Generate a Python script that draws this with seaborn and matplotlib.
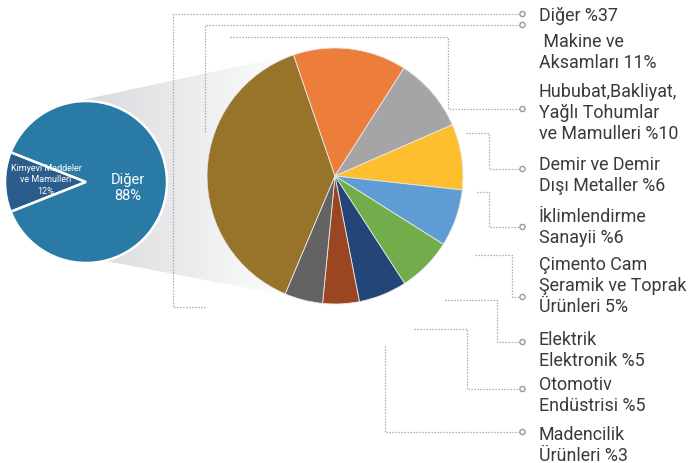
import numpy as np
import matplotlib
matplotlib.use("Agg")
import matplotlib.pyplot as plt
import seaborn as sns
from matplotlib.patches import Polygon, Circle

big_labels = ["Diğer %37", " Makine ve\nAksamları 11%", "Hububat,Bakliyat,\nYağlı Tohumlar\nve Mamulleri %10",
              "Demir ve Demir\nDışı Metaller %6", "İklimlendirme\nSanayii %6",
              "Çimento Cam\nŞeramik ve Toprak\nÜrünleri 5%", "Elektrik\nElektronik %5",
              "Otomotiv\nEndüstrisi %5", "Madencilik\nÜrünleri %3"]
big_values = [38.4, 14.3, 9.4, 8.3, 7.2, 6.9, 6.1, 4.6, 4.8]
big_colors = ["#97742a", "#ed7d3b", "#a5a5a5", "#fdbf2d", "#5e9cd3",
              "#72ad4c", "#234577", "#9b4622", "#636363"]

small_labels = ["Kimyevi Maddeler\nve Mamulleri\n12%", "Diğer\n88%"]
small_values = [12, 88]
small_colors = ["#2b5d8c", "#2a7aa6"]

sns.set_theme(style="white")
plt.rcParams['font.family'] = ['Roboto', 'DejaVu Sans']

W, H = 690, 464
fig = plt.figure(figsize=(6.9, 4.64), dpi=100)
ax = fig.add_axes([0, 0, 1, 1])


def Y(y):
    return H - y


# grey connector band between the two pies
band = [(86, 183), (68, 104), (296, 55), (335, 177), (284, 296), (106, 262)]
poly = Polygon([(x, Y(y)) for x, y in band], closed=True, facecolor="none", edgecolor="none")
ax.add_patch(poly)
grad = np.linspace(0, 1, 256).reshape(1, -1)
cmap = matplotlib.colors.LinearSegmentedColormap.from_list("band", ["#d5d6da", "#ffffff"])
im = ax.imshow(grad, extent=[65, 296, Y(300), Y(50)], cmap=cmap, aspect="auto", zorder=1)
im.set_clip_path(poly)

# small pie
sm_start = 180 - small_values[0] / 100 * 360 / 2
ax.pie(small_values, colors=small_colors, startangle=sm_start, counterclock=True,
       center=(86, Y(183)), radius=81, frame=True,
       wedgeprops=dict(edgecolor="white", linewidth=1.8, zorder=2))

# big pie
big_start = 108.9 + big_values[0] / 100 * 360
ax.pie(big_values, colors=big_colors, startangle=big_start, counterclock=False,
       center=(335, Y(177)), radius=128, frame=True,
       wedgeprops=dict(edgecolor="#e8e8e8", linewidth=0.6, zorder=2))

ax.text(128, Y(188), small_labels[1], color="white", fontsize=10.5, ha="center", va="center",
        linespacing=1.15, zorder=5)
ax.text(46, Y(180), small_labels[0], color="white", fontsize=6.5, ha="center", va="center",
        linespacing=1.35, zorder=5)

# leader lines (image pixel paths) and circle ends
leaders = [
    [(205, 308), (173, 308), (173, 15), (519, 15)],
    [(205, 133), (205, 26), (519, 26)],
    [(230, 38), (448, 38), (448, 110), (519, 110)],
    [(466, 134), (489, 134), (489, 170), (519, 170)],
    [(477, 193), (489, 193), (489, 228), (519, 228)],
    [(475, 256), (512, 256), (512, 298), (519, 298)],
    [(445, 301), (497, 301), (497, 343), (519, 343)],
    [(414, 330), (467, 330), (467, 390), (519, 390)],
    [(385, 347), (385, 433), (519, 433)],
]
for path in leaders:
    xs = [p[0] for p in path]
    ys = [Y(p[1]) for p in path]
    ax.plot(xs, ys, color="#9a9a9a", lw=0.9, ls=(0, (1, 1.4)), zorder=3)
    ex, ey = path[-1]
    ax.add_patch(Circle((ex + 3.5, Y(ey)), 2.6, facecolor="white", edgecolor="#9a9a9a", lw=1.0, zorder=4))

# category labels on the right, one text per line
first_baselines = [21, 47, 97, 170, 222, 270, 345, 390, 440]
for lab, base in zip(big_labels, first_baselines):
    for i, line in enumerate(lab.split("\n")):
        ax.text(539, Y(base + i * 21), line, fontsize=12.9, color="#3a3a3a",
                ha="left", va="baseline", zorder=5)

ax.set_xlim(0, W)
ax.set_ylim(0, H)
ax.set_aspect("auto")
ax.axis("off")
fig.savefig("out.png", dpi=100)
